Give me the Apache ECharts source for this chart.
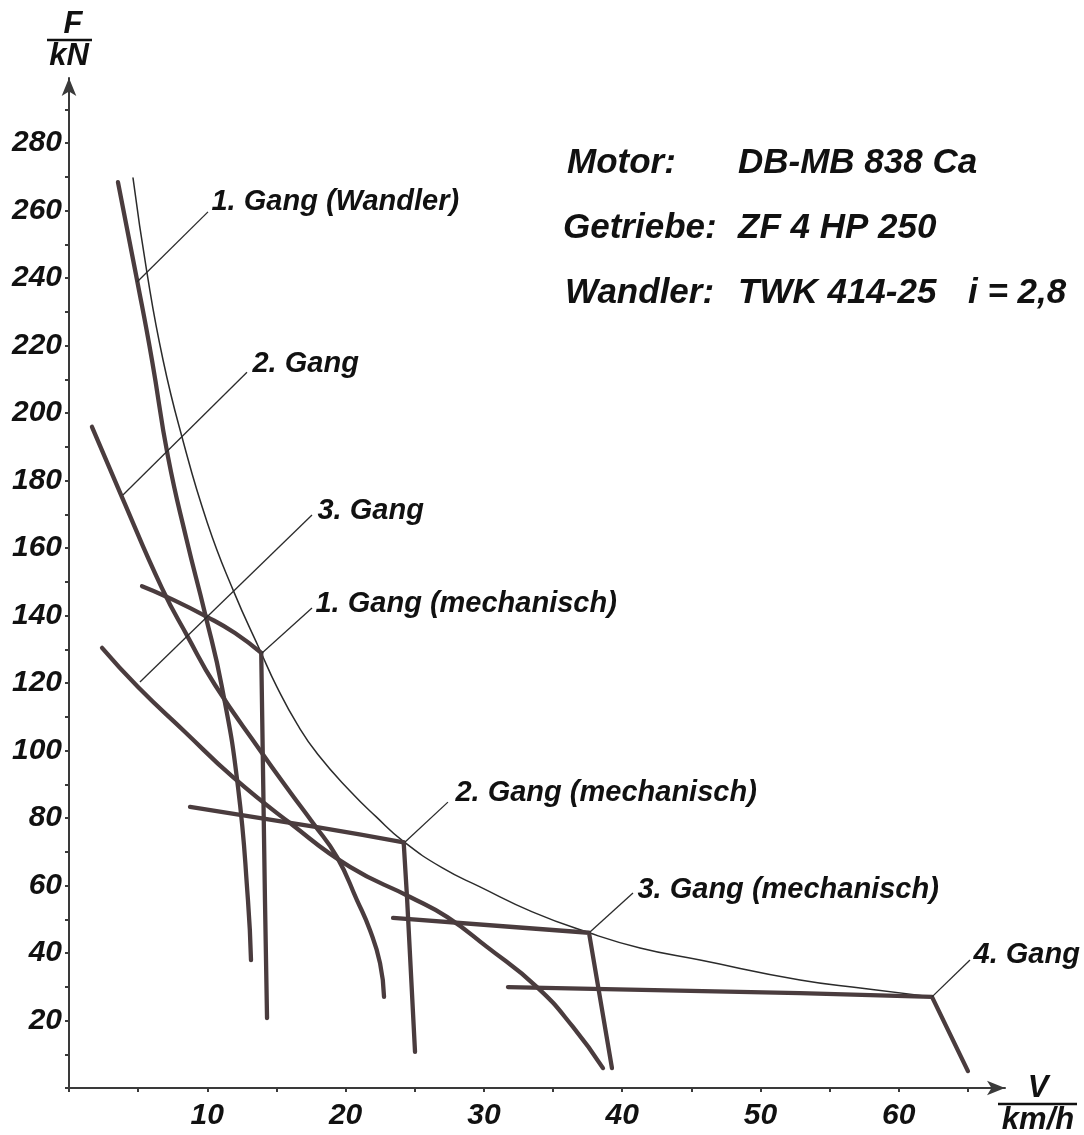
<!DOCTYPE html>
<html>
<head>
<meta charset="utf-8">
<script src="https://cdn.jsdelivr.net/npm/echarts@6/dist/echarts.min.js"></script>
<style>
html,body{margin:0;padding:0;background:#fff;}
#chart{width:1084px;height:1135px;}
</style>
</head>
<body>
<div id="chart"></div>
<script>
// ---- tick values / labels ----
const xTicks = [0,5,10,15,20,25,30,35,40,45,50,55,60,65];
const xLabels = [10,20,30,40,50,60];
const yTicks = [0,10,20,30,40,50,60,70,80,90,100,110,120,130,140,150,160,170,180,190,200,210,220,230,240,250,260,270,280,290];
const yLabels = [20,40,60,80,100,120,140,160,180,200,220,240,260,280];

// ---- curves [V km/h, F kN] ----
const hyperbola = [[4.63,269.6],[5.64,241.5],[6.8,215.7],[8.17,192.9],[10.0,167.5],[11.86,147.6],[13.9,128.9],[15.04,118.8],[16.5,107.8],[18.0,98.8],[20.32,88.0],[22.2,80.4],[24.2,73.0],[27.0,65.2],[29.72,59.6],[33.5,52.2],[37.6,46.0],[41.29,41.5],[45.63,37.9],[52.86,32.0],[57.5,29.5],[62.4,27.0]];
const gang1Wandler = [[3.54,268.4],[4.92,239.4],[6.0,215.7],[7.16,187.0],[8.5,162.5],[9.83,140.7],[11.06,118.8],[12.22,89.2],[12.94,55.7],[13.16,37.9]];
const gang2 = [[1.66,195.9],[3.83,175.1],[6.72,148.1],[8.6,133.6],[10.56,119.4],[13.81,100.1],[15.98,87.7],[17.64,78.5],[19.38,68.4],[20.82,55.7],[21.76,46.8],[22.49,37.0],[22.78,27.0]];
const gang3 = [[2.39,130.4],[4.99,118.8],[8.39,105.5],[11.86,92.1],[15.98,78.5],[20.32,65.5],[24.66,56.6],[27.33,50.7],[30.22,41.8],[33.84,29.9],[36.44,18.1],[38.61,5.9]];
const gang1MechArc = [[5.28,148.7],[7.09,145.5],[9.98,139.6],[12.0,134.8],[13.9,128.9]];
const gang1MechDrop = [[13.9,128.9],[14.17,55.7],[14.32,20.7]];
const gang2MechArc = [[8.75,83.3],[17.93,77.3],[24.2,72.8]];
const gang2MechDrop = [[24.2,72.8],[24.44,56.6],[25.02,10.7]];
const gang3Mech = [[23.43,50.4],[32.1,47.7],[37.6,46.0],[39.26,5.9]];
const gang4 = [[31.74,29.9],[52.86,28.1],[62.4,27.0],[65.0,5.0]];

// ---- leader lines & labels ----
const leaderNames = ['1. Gang (Wandler)','2. Gang','3. Gang','1. Gang (mechanisch)','2. Gang (mechanisch)','3. Gang (mechanisch)','4. Gang'];
const leaderLines = [
  [[4.92,238.8],[10.05,259.6]],
  [[3.90,175.7],[12.87,212.1]],
  [[5.13,120.3],[17.57,169.8]],
  [[13.96,128.9],[17.57,142.2]],
  [[24.3,72.9],[27.4,84.7]],
  [[37.67,46.2],[40.78,57.8]],
  [[62.4,27.0],[65.15,37.9]]
];
const infoKeys = ['Motor:','Getriebe:','Wandler:'];
const infoVals = ['DB-MB 838 Ca','ZF 4 HP 250','TWK 414-25'];
const infoExtra = 'i = 2,8';

const FONT = '"Liberation Sans", Arial, sans-serif';
const INK = '#4a3c3e';
const DARK = '#2b2b2b';

const chart = echarts.init(document.getElementById('chart'), null, {renderer:'canvas'});

function curve(data, width, smooth, color){
  return {type:'line', data:data, symbol:'none', smooth:smooth, silent:true, clip:false,
    lineStyle:{color:color||INK, width:width, cap:'round', join:'round'}, z:3};
}
const series = [
  curve(hyperbola, 1.5, 0.5, DARK),
  curve(gang1Wandler, 4.3, 0.5),
  curve(gang2, 4.3, 0.5),
  curve(gang3, 4.3, 0.5),
  curve(gang1MechArc, 4.3, 0.5),
  curve(gang1MechDrop, 4.3, false),
  curve(gang2MechArc, 4.3, 0.5),
  curve(gang2MechDrop, 4.3, false),
  curve(gang3Mech, 4.3, false),
  curve(gang4, 4.3, false)
];
const labelOffsets = [[0,-10],[2,-8],[2,-4],[0,-4],[4,-9],[1,-3],[0,-5]];
leaderLines.forEach(function(seg, i){
  series.push({type:'line', symbol:'circle', symbolSize:1, showSymbol:true, silent:true, clip:false, z:4,
    itemStyle:{color:'rgba(0,0,0,0)', borderWidth:0},
    lineStyle:{color:DARK, width:1.3},
    data:[{value:seg[0]},{value:seg[1], label:{show:true, position:'right', distance:3,
      offset:labelOffsets[i], formatter:leaderNames[i],
      fontFamily:FONT, fontStyle:'italic', fontWeight:'bold', fontSize:29, color:'#111'}}]
  });
});

const graphics = [];
const rowsY = [163,228,293];
const keyX = [567,563,565];
infoKeys.forEach(function(k,i){
  graphics.push({type:'text', x:keyX[i], y:rowsY[i], style:{text:k, font:'italic bold 35px '+FONT, fill:'#111', textVerticalAlign:'middle', verticalAlign:'middle'}});
  graphics.push({type:'text', x:738, y:rowsY[i], style:{text:infoVals[i], font:'italic bold 35px '+FONT, fill:'#111', textVerticalAlign:'middle', verticalAlign:'middle'}});
});
graphics.push({type:'text', x:968, y:rowsY[2], style:{text:infoExtra, font:'italic bold 35px '+FONT, fill:'#111', textVerticalAlign:'middle', verticalAlign:'middle'}});
// axis unit fractions
function cText(t, x, y){
  return {type:'text', x:x, y:y, style:{text:t, font:'italic bold 31px '+FONT, fill:'#111', textAlign:'center', align:'center', textVerticalAlign:'middle', verticalAlign:'middle'}};
}
graphics.push(cText('F', 73, 24));
graphics.push({type:'line', shape:{x1:47,y1:40,x2:92,y2:40}, style:{stroke:'#111', lineWidth:2.5}});
graphics.push(cText('kN', 69, 56));
graphics.push(cText('V', 1038, 1088));
graphics.push({type:'line', shape:{x1:998,y1:1104,x2:1077,y2:1104}, style:{stroke:'#111', lineWidth:2.5}});
graphics.push(cText('km/h', 1038, 1120));

const axisLabelStyle = {fontFamily:FONT, fontStyle:'italic', fontWeight:'bold', fontSize:30, color:'#111'};
chart.setOption({
  animation:false,
  backgroundColor:'#fff',
  grid:{left:69, right:79, top:78, bottom:47, containLabel:false},
  xAxis:{type:'value', min:0, max:67.68, splitLine:{show:false},
    axisLine:{show:true, onZero:false, symbol:['none','arrow'], symbolSize:[11,18], lineStyle:{color:'#3a3a3a', width:2}},
    axisTick:{show:true, customValues:xTicks, length:4, inside:false, lineStyle:{color:'#3a3a3a', width:2}},
    axisLabel:Object.assign({customValues:xLabels, margin:13}, axisLabelStyle)},
  yAxis:{type:'value', min:0, max:299.26, splitLine:{show:false},
    axisLine:{show:true, onZero:false, symbol:['none','arrow'], symbolSize:[11,18], lineStyle:{color:'#3a3a3a', width:2}},
    axisTick:{show:true, customValues:yTicks, length:4, inside:false, lineStyle:{color:'#3a3a3a', width:2}},
    axisLabel:Object.assign({customValues:yLabels, margin:7}, axisLabelStyle)},
  series:series,
  graphic:graphics
});
</script>
</body>
</html>
